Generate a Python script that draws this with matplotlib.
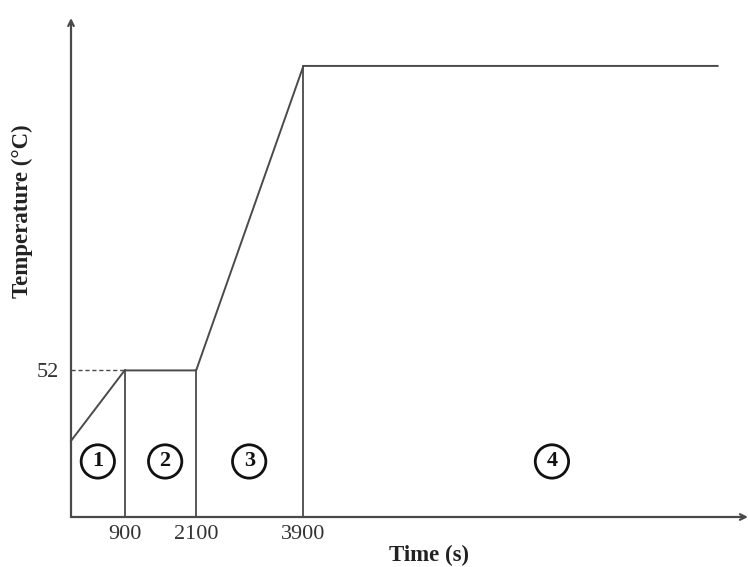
import matplotlib
matplotlib.use("Agg")
import matplotlib.pyplot as plt

# Data
time_s = [0, 900, 2100, 3900, 10850]
temp_c = [27, 52, 52, 160, 160]
xtick_vals = [900, 2100, 3900]
xtick_labels = ["900", "2100", "3900"]
ytick_vals = [52]
ytick_labels = ["52"]
stage_labels = ["1", "2", "3", "4"]
stage_x = [450, 1580, 2990, 8070]
stage_y = 19.7

plt.rcParams['font.family'] = ['Liberation Serif', 'DejaVu Serif']
W, H = 748, 567
fig = plt.figure(figsize=(W / 100, H / 100), dpi=100)
left, right, bottom, top = 71, 748, 517, 18
ax = fig.add_axes([left / W, (H - bottom) / H, (right - left) / W, (bottom - top) / H])
ax.set_xlim(0, 11360)
ax.set_ylim(0, 177)
for s in ax.spines.values():
    s.set_visible(False)

lc = '#4a4a4a'
ax.plot(time_s, temp_c, color=lc, lw=1.4, solid_joinstyle='miter', clip_on=False)
# vertical separators
for t in xtick_vals:
    yv = temp_c[time_s.index(t)]
    ax.plot([t, t], [0, yv], color=lc, lw=1.3)
# dashed guide at 52
ax.plot([0, 900], [52, 52], color=lc, lw=1.0, ls=(0, (3, 2)))

# axes with arrows
ax.annotate('', xy=(1.0, 0), xytext=(0, 0), xycoords='axes fraction',
            arrowprops=dict(arrowstyle='->', color=lc, lw=1.6, shrinkA=0, shrinkB=0))
ax.annotate('', xy=(0, 1.0), xytext=(0, 0), xycoords='axes fraction',
            arrowprops=dict(arrowstyle='->', color=lc, lw=1.6, shrinkA=0, shrinkB=0))

ax.set_xticks(xtick_vals)
ax.set_xticklabels(xtick_labels)
ax.set_yticks(ytick_vals)
ax.set_yticklabels(ytick_labels)
ax.tick_params(axis='x', length=0, labelsize=16, colors='#333333', pad=6)
ax.tick_params(axis='y', length=0, labelsize=16, colors='#333333', pad=9)

for lab, x in zip(stage_labels, stage_x):
    ax.text(x, stage_y, lab, ha='center', va='center', fontsize=16, fontweight='bold',
            color='#111111',
            bbox=dict(boxstyle='circle,pad=0.3', fc='white', ec='#111111', lw=2.0))

fig.text(429 / W, 1 - 555 / H, 'Time (s)', ha='center', va='center', fontsize=16.5,
         fontweight='bold', color='#222222')
fig.text(22 / W, 1 - 211 / H, 'Temperature (\u00b0C)', ha='center', va='center', fontsize=16.5,
         fontweight='bold', rotation=90, color='#222222')

fig.savefig('out.png', dpi=100, facecolor='white')
